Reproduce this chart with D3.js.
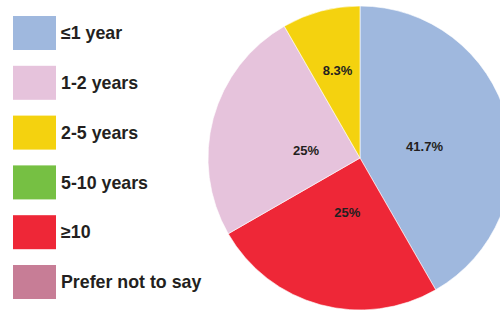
<!DOCTYPE html>
<html>
<head>
<meta charset="utf-8">
<script src="https://cdn.jsdelivr.net/npm/d3@7"></script>
<style>
  body { margin: 0; background: #fff; }
  svg { display: block; font-family: "Liberation Sans", Arial, sans-serif; }
</style>
</head>
<body>
<script>
// categories and values (percent)
const categories = ["≤1 year", "1-2 years", "2-5 years", "5-10 years", "≥10", "Prefer not to say"];
const values = [41.7, 25, 8.3, 0, 25, 0];
const colors = ["#9fb8de", "#e6c3dc", "#f4d20f", "#76c043", "#ee2737", "#c77d96"];
// clockwise order of the slices from 12 o'clock
const sliceOrder = ["≤1 year", "≥10", "1-2 years", "2-5 years"];
// label placement: [fraction of radius, fraction across the slice angle]
const labelPlace = {
    "≤1 year": [0.431, 0.533],
    "≥10": [0.365, 0.478],
    "1-2 years": [0.359, 0.427],
    "2-5 years": [0.597, 0.52]
};

const width = 500, height = 310;
const cx = 360, cy = 158, radius = 152;

const svg = d3.select("body").append("svg")
    .attr("width", width)
    .attr("height", height);

const color = d3.scaleOrdinal().domain(categories).range(colors);

// legend
const legend = svg.append("g");
const row = legend.selectAll("g")
    .data(categories)
    .enter()
    .append("g")
    .attr("transform", (d, i) => "translate(13," + (16 + i * 49.8) + ")");

row.append("rect")
    .attr("width", 43)
    .attr("height", 34)
    .style("fill", d => color(d));

row.append("text")
    .attr("x", 48)
    .attr("y", 17)
    .attr("dy", "0.35em")
    .style("font-size", "17.8px")
    .style("font-weight", "bold")
    .style("fill", "#231f20")
    .text(d => d);

// pie
const pieData = sliceOrder.map(c => ({ name: c, value: values[categories.indexOf(c)] }));

const pie = d3.pie()
    .sort(null)
    .value(d => d.value);

const arc = d3.arc()
    .innerRadius(0)
    .outerRadius(radius);

const g = svg.append("g")
    .attr("transform", "translate(" + cx + "," + cy + ")");

const arcs = pie(pieData);

g.selectAll("path")
    .data(arcs)
    .enter()
    .append("path")
    .attr("d", arc)
    .style("fill", d => color(d.data.name))
    .style("stroke", "#fff")
    .style("stroke-width", 0.6);

g.selectAll("text")
    .data(arcs)
    .enter()
    .append("text")
    .attr("transform", d => {
        const p = labelPlace[d.data.name];
        const r = radius * p[0];
        const a = d.startAngle + (d.endAngle - d.startAngle) * p[1];
        return "translate(" + (Math.sin(a) * r) + "," + (-Math.cos(a) * r) + ")";
    })
    .attr("text-anchor", "middle")
    .attr("dy", "0.36em")
    .style("font-size", "13px")
    .style("font-weight", "bold")
    .style("fill", "#231f20")
    .text(d => d.data.value + "%");
</script>
</body>
</html>
